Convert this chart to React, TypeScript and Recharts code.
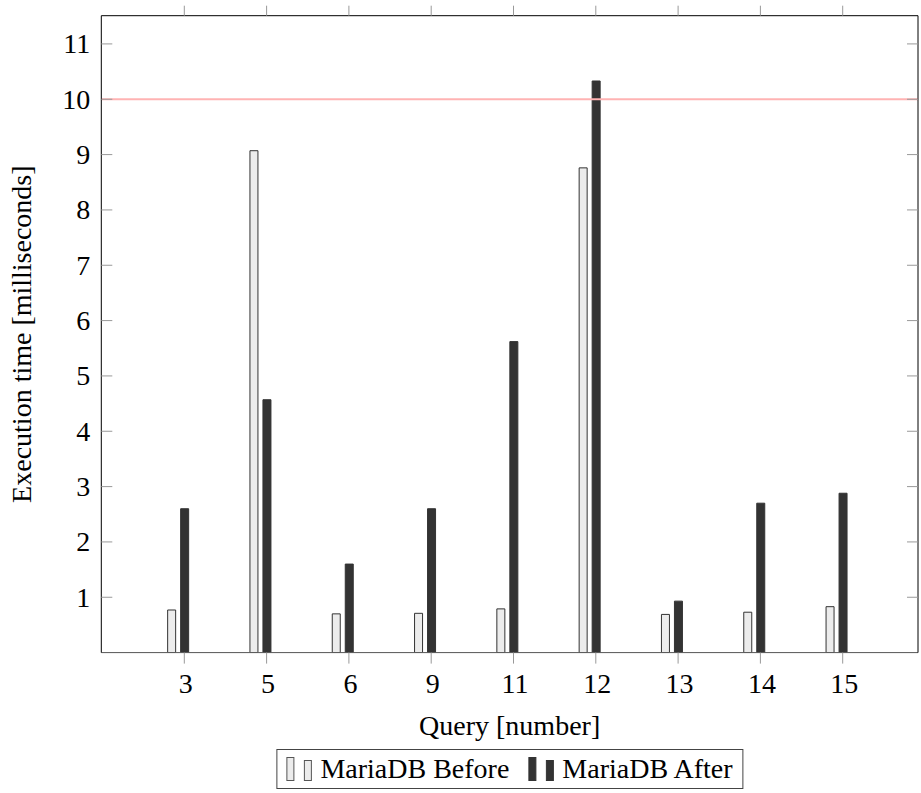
import React from 'react';
import { BarChart, Bar, XAxis, YAxis, ReferenceLine } from 'recharts';

const queries = ['3', '5', '6', '9', '11', '12', '13', '14', '15'];
const beforeTimes = [0.77, 9.07, 0.7, 0.71, 0.79, 8.76, 0.69, 0.73, 0.83];
const afterTimes = [2.6, 4.57, 1.6, 2.6, 5.62, 10.33, 0.93, 2.7, 2.88];
const yTicks = [1, 2, 3, 4, 5, 6, 7, 8, 9, 10, 11];
const limit = 10;

const data = queries.map((q, i) => ({ query: q, before: beforeTimes[i], after: afterTimes[i] }));

const FONT = '"Liberation Serif", "Times New Roman", serif';
const TICK_SHIFT = 6.5; // pgfplots puts the tick under the second bar
const xPadding = { left: 35.35, right: 40.65 };

const BottomTick = (props: any) => {
  const { x, y, payload } = props;
  const tx = x + TICK_SHIFT;
  return (
    <g>
      <line x1={tx} x2={tx} y1={y} y2={y + 11} stroke="#999" strokeWidth={1} />
      <text x={tx + 1.5} y={y + 40.5} textAnchor="middle" fontFamily={FONT} fontSize={28} fill="#000">
        {payload.value}
      </text>
    </g>
  );
};

const TopTick = (props: any) => {
  const { x, y } = props;
  const tx = x + TICK_SHIFT;
  return <line x1={tx} x2={tx} y1={y - 10} y2={y} stroke="#999" strokeWidth={1} />;
};

const LeftTick = (props: any) => {
  const { x, y, payload } = props;
  return (
    <g>
      <line x1={x} x2={x + 11} y1={y} y2={y} stroke="#999" strokeWidth={1} />
      <text x={x - 11} y={y + 9.5} textAnchor="end" fontFamily={FONT} fontSize={28} fill="#000">
        {payload.value}
      </text>
    </g>
  );
};

const RightTick = (props: any) => {
  const { x, y } = props;
  return <line x1={x} x2={x - 11} y1={y} y2={y} stroke="#999" strokeWidth={1} />;
};

const YLabel = (props: any) => {
  const vb = props.viewBox;
  const cx = vb.x + 31;
  const cy = vb.y + vb.height / 2;
  return (
    <text x={cx} y={cy} transform={`rotate(-90, ${cx}, ${cy})`} textAnchor="middle" fontFamily={FONT} fontSize={28} fill="#000">
      Execution time [milliseconds]
    </text>
  );
};

const XLabel = (props: any) => {
  const vb = props.viewBox;
  return (
    <text x={vb.x + vb.width / 2} y={vb.y + 82} textAnchor="middle" fontFamily={FONT} fontSize={28} fill="#000">
      Query [number]
    </text>
  );
};

const LegendIcon = ({ fill, stroke }: { fill: string; stroke: string }) => (
  <svg width={43} height={38} style={{ display: 'block' }}>
    <rect x={9.5} y={7.5} width={7} height={23} fill={fill} stroke={stroke} strokeWidth={1} />
    <rect x={27} y={10.5} width={7} height={20} fill={fill} stroke={stroke} strokeWidth={1} />
  </svg>
);

const App: React.FC = () => {
  return (
    <div style={{ position: 'absolute', left: 0, top: 0, width: 921, height: 793, background: '#fff' }}>
      <BarChart width={921} height={793} data={data} margin={{ top: 0, right: 0, bottom: 0, left: 0 }} barSize={8} barGap={5}>
        <XAxis
          xAxisId="bottom"
          dataKey="query"
          height={140.4}
          padding={xPadding}
          interval={0}
          axisLine={{ stroke: '#555' }}
          tickLine={false}
          tickSize={0}
          tickMargin={0}
          tick={<BottomTick />}
          label={<XLabel />}
        />
        <XAxis
          xAxisId="top"
          dataKey="query"
          orientation="top"
          height={15.7}
          padding={xPadding}
          interval={0}
          axisLine={{ stroke: '#000' }}
          tickLine={false}
          tickSize={0}
          tickMargin={0}
          tick={<TopTick />}
        />
        <YAxis
          yAxisId="left"
          width={101.3}
          domain={[0, 11.51]}
          ticks={yTicks}
          allowDataOverflow
          axisLine={{ stroke: '#000' }}
          tickLine={false}
          tickSize={0}
          tickMargin={0}
          tick={<LeftTick />}
          label={<YLabel />}
        />
        <YAxis
          yAxisId="right"
          orientation="right"
          width={3}
          domain={[0, 11.51]}
          ticks={yTicks}
          allowDataOverflow
          axisLine={{ stroke: '#000' }}
          tickLine={false}
          tickSize={0}
          tickMargin={0}
          tick={<RightTick />}
        />
        <ReferenceLine xAxisId="bottom" yAxisId="left" y={limit} stroke="#ffb3b3" strokeWidth={2} />
        <Bar xAxisId="bottom" yAxisId="left" dataKey="before" fill="#ececec" stroke="#333" strokeWidth={1} isAnimationActive={false} />
        <Bar xAxisId="bottom" yAxisId="left" dataKey="after" fill="#333333" stroke="#333" strokeWidth={1} isAnimationActive={false} />
      </BarChart>
      <div
        style={{
          position: 'absolute',
          left: 510,
          top: 749,
          transform: 'translateX(-50%)',
          display: 'flex',
          alignItems: 'center',
          height: 38,
          border: '1px solid #444',
          background: '#fff',
          fontFamily: FONT,
          fontSize: 28,
          lineHeight: '38px',
          whiteSpace: 'nowrap',
          paddingRight: 10,
        }}
      >
        <LegendIcon fill="#ececec" stroke="#555" />
        <span style={{ marginRight: 10 }}>MariaDB Before</span>
        <LegendIcon fill="#333333" stroke="#333" />
        <span>MariaDB After</span>
      </div>
    </div>
  );
};

export default App;
